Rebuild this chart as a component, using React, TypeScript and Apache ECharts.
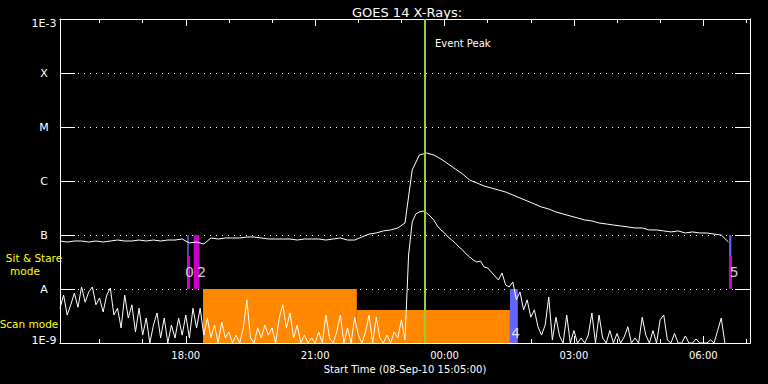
import React, { useEffect, useRef } from "react";
import * as echarts from "echarts";

const FONT = "'DejaVu Sans', sans-serif";
const START_HOUR = 15 + 5 / 60; // 08-Sep-10 15:05
const SPAN_HOURS = 16;
const LONG_STEP_MIN = 10;
const SHORT_STEP_MIN = 5;

// GOES 14 long channel (1-8 A), one value every 10 minutes from 15:05
const longFlux = [
  7.74e-8, 7.41e-8, 7.74e-8, 7.74e-8, 7.41e-8, 7.74e-8, 7.41e-8, 7.74e-8, 8.07e-8, 7.74e-8,
  7.74e-8, 8.07e-8, 7.74e-8, 8.07e-8, 7.74e-8, 8.07e-8, 8.07e-8, 8.43e-8, 7.11e-8, 7.41e-8,
  6.81e-8, 8.8e-8, 8.43e-8, 8.8e-8, 8.8e-8, 8.8e-8, 9.18e-8, 9.18e-8, 8.8e-8, 8.43e-8,
  8.43e-8, 8.43e-8, 8.43e-8, 8.07e-8, 8.43e-8, 8.43e-8, 8.43e-8, 8.07e-8, 8.43e-8, 8.8e-8,
  8.07e-8, 8.07e-8, 9.18e-8, 1.04e-7, 1.09e-7, 1.19e-7, 1.24e-7, 1.35e-7, 1.67e-7, 1.6e-6,
  3.03e-6, 3.3e-6, 3.03e-6, 2.55e-6, 2.07e-6, 1.67e-6, 1.35e-6, 1.04e-6, 9.2e-7, 8.07e-7,
  7.41e-7, 6.81e-7, 6.25e-7, 5.51e-7, 4.84e-7, 4.27e-7, 3.75e-7, 3.3e-7, 3.03e-7, 2.67e-7,
  2.45e-7, 2.25e-7, 2.07e-7, 1.9e-7, 1.82e-7, 1.67e-7, 1.6e-7, 1.53e-7, 1.47e-7, 1.41e-7,
  1.35e-7, 1.35e-7, 1.24e-7, 1.24e-7, 1.19e-7, 1.14e-7, 1.19e-7, 1.09e-7, 1.14e-7, 1.09e-7,
  1.09e-7, 1.04e-7, 1.0e-7, 7.41e-8,
];

// GOES 14 short channel (0.5-4 A), one value every 5 minutes from 15:05
const shortFlux = [
  4.4e-9, 7.7e-9, 3.3e-9, 5.1e-9, 8.4e-9, 4.6e-9, 1.09e-8, 5.7e-9, 8.8e-9, 1.09e-8,
  5.1e-9, 6.8e-9, 3.75e-9, 7.7e-9, 1.04e-8, 3.3e-9, 4.4e-9, 1.9e-9, 7.7e-9, 2.9e-9,
  5.1e-9, 1.6e-9, 4.4e-9, 1.4e-9, 2.9e-9, 1.0e-9, 2.15e-9, 3.6e-9, 1.24e-9, 2.9e-9,
  1.0e-9, 2.15e-9, 1.24e-9, 2.9e-9, 1.4e-9, 3.3e-9, 1.24e-9, 4.4e-9, 1.9e-9, 4.4e-9,
  1.4e-9, 2.9e-9, 1.24e-9, 2.15e-9, 1.0e-9, 2.45e-9, 1.24e-9, 1.6e-9, 1.0e-9, 1.4e-9,
  1.0e-9, 1.9e-9, 6.3e-9, 1.24e-9, 1.0e-9, 1.9e-9, 1.24e-9, 2.15e-9, 1.4e-9, 1.9e-9,
  1.0e-9, 2.9e-9, 5.1e-9, 1.9e-9, 3.6e-9, 1.24e-9, 2.15e-9, 1.0e-9, 1.4e-9, 1.0e-9,
  1.24e-9, 1.0e-9, 1.6e-9, 1.0e-9, 3.3e-9, 1.24e-9, 1.0e-9, 1.6e-9, 3.3e-9, 1.0e-9,
  1.9e-9, 1.0e-9, 3.0e-9, 1.4e-9, 1.0e-9, 1.6e-9, 3.3e-9, 1.0e-9, 3.0e-9, 1.24e-9,
  1.0e-9, 1.4e-9, 1.0e-9, 1.6e-9, 1.24e-9, 2.7e-9, 1.14e-9, 4.27e-8, 1.74e-7, 2.45e-7,
  2.67e-7, 2.78e-7, 2.55e-7, 2.25e-7, 1.9e-7, 1.47e-7, 1.24e-7, 1.09e-7, 9.2e-8, 8.1e-8,
  7.1e-8, 6.0e-8, 5.3e-8, 4.45e-8, 3.9e-8, 3.44e-8, 3.16e-8, 3.3e-8, 2.55e-8, 2.45e-8,
  2.07e-8, 1.74e-8, 1.47e-8, 1.98e-8, 1.19e-8, 1.09e-8, 1.35e-8, 6.3e-9, 8.8e-9, 4.1e-9,
  6.3e-9, 3.0e-9, 4.1e-9, 2.0e-9, 1.4e-9, 2.15e-9, 7.1e-9, 1.14e-9, 3.0e-9, 1.35e-9,
  1.0e-9, 3.3e-9, 1.0e-9, 1.7e-9, 1.0e-9, 1.24e-9, 1.0e-9, 1.4e-9, 3.6e-9, 1.0e-9,
  3.3e-9, 1.24e-9, 1.0e-9, 1.7e-9, 1.0e-9, 1.5e-9, 1.0e-9, 1.3e-9, 2.0e-9, 1.0e-9,
  1.24e-9, 1.0e-9, 3.0e-9, 1.4e-9, 1.0e-9, 1.7e-9, 1.0e-9, 2.7e-9, 3.3e-9, 1.14e-9,
  1.0e-9, 1.5e-9, 1.0e-9, 1.0e-9, 1.35e-9, 1.0e-9, 1.0e-9, 1.19e-9, 1.0e-9, 1.0e-9,
  1.0e-9, 1.14e-9, 1.0e-9, 1.7e-9, 2.9e-9, 1.0e-9,
];

// y tick labels for exponents -9 .. -3
const yTickLabels = ["1E-9", "A", "B", "C", "M", "X", "1E-3"];
const xMajorHours = [18, 21, 24, 27, 30];
const xMinorHours = [16, 17, 18, 19, 20, 21, 22, 23, 24, 25, 26, 27, 28, 29, 30, 31];

const scanModes = [
  { start: "18:24", end: "21:58", top: 1e-8 },
  { start: "21:58", end: "01:31", top: 4.1e-9 },
];

const flagBars = [
  { start: "18:02", end: "18:04", low: 1e-8, high: 1e-7, color: "#6464ff" },
  { start: "18:03", end: "18:06", low: 1e-8, high: 4.1e-8, color: "#c800c8" },
  { start: "18:11", end: "18:19", low: 1e-8, high: 1e-7, color: "#c800c8" },
  { start: "01:31", end: "01:42", low: 1e-9, high: 1e-8, color: "#6464ff" },
  { start: "06:36", end: "06:39", low: 1e-8, high: 1e-7, color: "#6464ff" },
  { start: "06:36", end: "06:40", low: 1e-8, high: 4.1e-8, color: "#c800c8" },
];

const flagLabels = [
  { time: "18:05", flux: 2.07e-8, text: "0" },
  { time: "18:22", flux: 2.07e-8, text: "2" },
  { time: "01:39", flux: 1.53e-9, text: "4" },
  { time: "06:43", flux: 2.07e-8, text: "5" },
];

const peakTime = "23:32";

function hm(s: string): number {
  const [h, m] = s.split(":").map(Number);
  let t = h + m / 60;
  if (t < 12) t += 24;
  return t;
}

function fmtHour(v: number): string {
  const h = Math.round(v) % 24;
  return (h < 10 ? "0" : "") + h + ":00";
}

export default function App() {
  const ref = useRef<HTMLDivElement>(null);

  useEffect(() => {
    document.body.style.margin = "0";
    document.body.style.background = "#000";
    if (!ref.current) return;
    const chart = echarts.init(ref.current, undefined, { renderer: "svg" });

    const white = "#ffffff";
    const baseX = {
      type: "value",
      min: START_HOUR,
      max: START_HOUR + SPAN_HOURS,
      splitLine: { show: false },
      axisLine: { show: true, lineStyle: { color: white, width: 1 } },
      offset: 0,
    };
    const minorTick = { show: true, inside: true, length: 4, customValues: xMinorHours, lineStyle: { color: white } };
    const majorTick = { show: true, inside: true, length: 7, customValues: xMajorHours, lineStyle: { color: white } };
    const baseY = {
      type: "log",
      logBase: 10,
      min: 1e-9,
      max: 1e-3,
      splitNumber: 6,
      axisLine: { show: true, lineStyle: { color: white, width: 1 } },
      axisTick: { show: true, inside: true, length: 15, lineStyle: { color: white } },
      minorTick: { show: false },
    };

    const option: any = {
      animation: false,
      backgroundColor: "#000",
      title: {
        text: "GOES 14 X-Rays:",
        left: 402,
        top: 1,
        textAlign: "center",
        textStyle: { color: white, fontSize: 13, fontWeight: "normal", fontFamily: FONT },
      },
      grid: { left: 60, right: 18, top: 19, bottom: 41, containLabel: false },
      xAxis: [
        { ...baseX, position: "bottom", axisTick: minorTick, axisLabel: { show: false } },
        {
          ...baseX,
          position: "bottom",
          axisTick: majorTick,
          axisLabel: {
            show: true,
            customValues: xMajorHours,
            formatter: (v: number) => fmtHour(v),
            color: white,
            fontSize: 10,
            fontFamily: FONT,
            margin: 7,
          },
          name: "Start Time (08-Sep-10 15:05:00)",
          nameLocation: "middle",
          nameGap: 20,
          nameTextStyle: { color: white, fontSize: 10, fontFamily: FONT },
        },
        { ...baseX, position: "top", axisTick: minorTick, axisLabel: { show: false } },
        { ...baseX, position: "top", axisTick: majorTick, axisLabel: { show: false } },
      ],
      yAxis: [
        {
          ...baseY,
          position: "left",
          axisLabel: {
            show: true,
            color: white,
            fontSize: 11,
            fontFamily: FONT,
            align: "center",
            margin: 16,
            formatter: (v: number) => {
              const e = Math.round(Math.log10(v));
              const label = yTickLabels[e + 9] ?? "";
              if (e === -3) return "{top|" + label + "}";
              if (e === -9) return "{bot|" + label + "}";
              return label;
            },
            rich: {
              top: { color: white, fontSize: 11, fontFamily: FONT, padding: [8, 0, 0, 0] },
              bot: { color: white, fontSize: 11, fontFamily: FONT, padding: [0, 0, 6, 0] },
            },
          },
          splitLine: { show: true, lineStyle: { color: white, width: 1, type: [1, 5] } },
        },
        {
          ...baseY,
          position: "right",
          axisLabel: { show: false },
          splitLine: { show: false },
        },
      ],
      graphic: [
        {
          type: "text",
          x: 435,
          y: 43,
          style: { text: "Event Peak", fill: white, fontSize: 10, fontFamily: FONT, align: "left", verticalAlign: "middle" },
        },
        {
          type: "text",
          x: 34,
          y: 258,
          style: { text: "Sit & Stare", fill: "#ffff00", fontSize: 10.5, fontFamily: FONT, align: "center", verticalAlign: "middle" },
        },
        {
          type: "text",
          x: 25,
          y: 271,
          style: { text: "mode", fill: "#ffff00", fontSize: 10.5, fontFamily: FONT, align: "center", verticalAlign: "middle" },
        },
        {
          type: "text",
          x: 29,
          y: 324,
          style: { text: "Scan mode", fill: "#ffff00", fontSize: 10.5, fontFamily: FONT, align: "center", verticalAlign: "middle" },
        },
      ],
      series: [
        {
          name: "Scan mode",
          type: "line",
          data: [],
          z: 1,
          markArea: {
            silent: true,
            itemStyle: { color: "#ff8800", opacity: 1 },
            data: scanModes.map((s) => [
              { xAxis: hm(s.start), yAxis: s.top },
              { xAxis: hm(s.end), yAxis: 1e-9 },
            ]),
          },
        },
        {
          name: "Flags",
          type: "line",
          data: [],
          z: 2,
          markArea: {
            silent: true,
            data: flagBars.map((f) => [
              { xAxis: hm(f.start), yAxis: f.high, itemStyle: { color: f.color, opacity: 1 } },
              { xAxis: hm(f.end), yAxis: f.low },
            ]),
          },
        },
        {
          name: "0.5-4.0 A",
          type: "line",
          z: 3,
          symbol: "none",
          clip: true,
          lineStyle: { color: white, width: 1 },
          data: shortFlux.map((v, i) => [START_HOUR + (i * SHORT_STEP_MIN) / 60, v]),
        },
        {
          name: "1.0-8.0 A",
          type: "line",
          z: 3,
          symbol: "none",
          clip: true,
          lineStyle: { color: white, width: 1 },
          data: longFlux.map((v, i) => [START_HOUR + (i * LONG_STEP_MIN) / 60, v]),
        },
        {
          name: "Event Peak",
          type: "line",
          data: [],
          z: 4,
          markLine: {
            silent: true,
            symbol: ["none", "none"],
            label: { show: false },
            lineStyle: { color: "#9acd32", width: 2, type: "solid" },
            data: [{ xAxis: hm(peakTime) }],
          },
        },
        {
          name: "Flag labels",
          type: "scatter",
          z: 5,
          symbolSize: 1,
          itemStyle: { color: "rgba(0,0,0,0)" },
          label: {
            show: true,
            position: "inside",
            color: white,
            fontSize: 14,
            fontFamily: FONT,
            formatter: (p: any) => p.data[2],
          },
          data: flagLabels.map((f) => [hm(f.time), f.flux, f.text]),
        },
      ],
    };

    chart.setOption(option);
    return () => chart.dispose();
  }, []);

  return (
    <div
      ref={ref}
      style={{ position: "fixed", left: 0, top: 0, width: 768, height: 384, background: "#000" }}
    />
  );
}
